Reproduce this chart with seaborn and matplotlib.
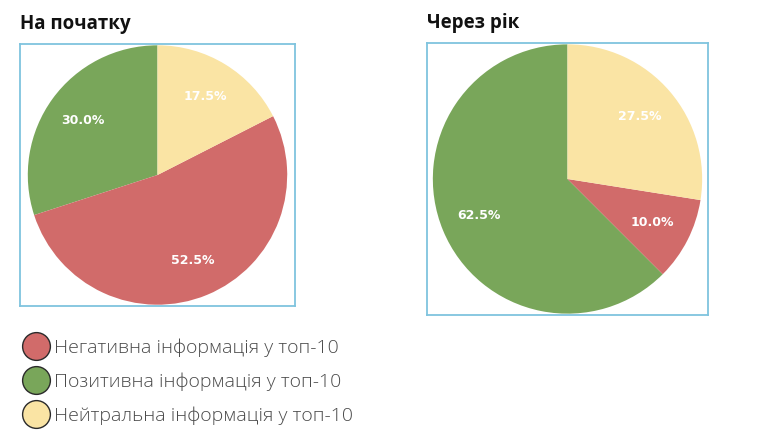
import matplotlib
matplotlib.use("Agg")
import matplotlib.pyplot as plt
from matplotlib.lines import Line2D
import seaborn as sns

# Data
categories = ["Негативна інформація у топ-10",
              "Позитивна інформація у топ-10",
              "Нейтральна інформація у топ-10"]
start_vals = [52.5, 30.0, 17.5]   # "На початку"
year_vals = [10.0, 62.5, 27.5]    # "Через рік"
titles = ["На початку", "Через рік"]

colors = ["#D16B6A", "#79A65A", "#FAE4A4"]

sns.set_theme(style="white")
plt.rcParams["font.family"] = ["Open Sans", "DejaVu Sans"]

fig = plt.figure(figsize=(7.68, 4.38), dpi=100)
fig.patch.set_facecolor("white")

# axes boxes (figure fractions)
boxes = [[20/768, 1 - 306/438, 275/768, 262/438],
         [427/768, 1 - 315/438, 281/768, 272/438]]

# pie draws counter-clockwise from top: green, red, yellow
order = [1, 0, 2]

for box, vals, title in zip(boxes, [start_vals, year_vals], titles):
    ax = fig.add_axes(box)
    ax.pie([vals[i] for i in order], colors=[colors[i] for i in order],
           startangle=90, counterclock=True, autopct="%1.1f%%",
           pctdistance=0.71, wedgeprops=dict(linewidth=0),
           textprops=dict(color="white", fontweight="bold", fontsize=9,
                          family="DejaVu Sans"))
    ax.set_aspect("equal", adjustable="datalim")
    ax.set_xlim(-1.01, 1.01)
    ax.set_ylim(-1.01, 1.01)
    ax.set_frame_on(True)
    for sp in ax.spines.values():
        sp.set_visible(True)
        sp.set_color("#7FC4DE")
        sp.set_linewidth(1.3)
    ax.set_xticks([])
    ax.set_yticks([])
    fig.text(box[0], box[1] + box[3] + 0.022, title, fontsize=13.5,
             fontweight="bold", color="#111111", ha="left", va="bottom")

handles = [Line2D([0], [0], marker="o", linestyle="none", markersize=20,
                  markerfacecolor=c, markeredgecolor="#2a2a2a",
                  markeredgewidth=1.0) for c in colors]
leg = fig.legend(handles, categories, loc="upper left",
                 bbox_to_anchor=(0.012, 0.258), frameon=False,
                 fontsize=14, handlelength=1.4, handletextpad=0.2,
                 labelspacing=0.8, borderpad=0.2)
for t in leg.get_texts():
    t.set_color("#4a4a4a")
    t.set_fontweight("light")

fig.savefig("out.png", dpi=100, facecolor="white")
